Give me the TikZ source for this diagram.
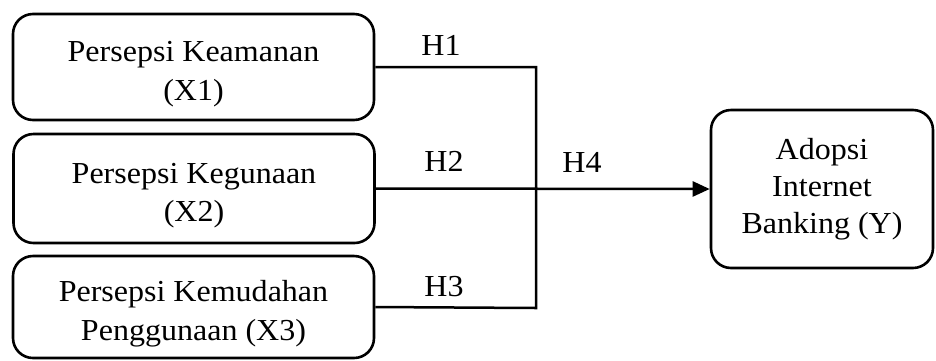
\documentclass[tikz,border=0pt]{standalone}
\usepackage{fontspec}
\setmainfont{Liberation Serif}[FakeStretch=1.05]
\usetikzlibrary{arrows.meta}
\tikzset{
  varbox/.style={draw=black, line width=2.6pt, rounded corners=20pt, fill=white,
    align=center, inner sep=0pt, font=\fontsize{30.5}{39}\selectfont},
  hlabel/.style={inner sep=0pt, font=\fontsize{30.5}{38}\selectfont},
  conn/.style={line width=2.5pt}
}
\begin{document}
\begin{tikzpicture}[x=1pt,y=-1pt]
\useasboundingbox (0,0) rectangle (936,360);
\node[varbox, minimum width=361pt, minimum height=106pt] (x1) at (193.5,67) {\rule{0pt}{34pt}Persepsi Keamanan\\(X1)};
\node[varbox, minimum width=361pt, minimum height=109pt, font=\fontsize{30.5}{38}\selectfont] (x2) at (194,188.5) {\rule{0pt}{35pt}Persepsi Kegunaan\\(X2)};
\node[varbox, minimum width=361pt, minimum height=102pt] (x3) at (193.5,307) {\rule{0pt}{34pt}Persepsi Kemudahan\\Penggunaan (X3)};
\node[varbox, minimum width=222pt, minimum height=158pt, font=\fontsize{30.5}{37}\selectfont] (y) at (822,189) {Adopsi\\Internet\\Banking (Y)};
\node[hlabel] (h1) at (441,45) {H1};
\node[hlabel] (h2) at (444,161) {H2};
\node[hlabel] (h3) at (444,287) {H3};
\node[hlabel] (h4) at (582,162) {H4};
\coordinate (top) at (536,67);
\coordinate (bot) at (536,308);
\draw[conn] (x1.east) -- (top) -- (bot) -- (x3.east);
\draw[conn, -{Triangle[length=17pt,width=15pt]}] (x2.east) -- (y.west);
\end{tikzpicture}
\end{document}
